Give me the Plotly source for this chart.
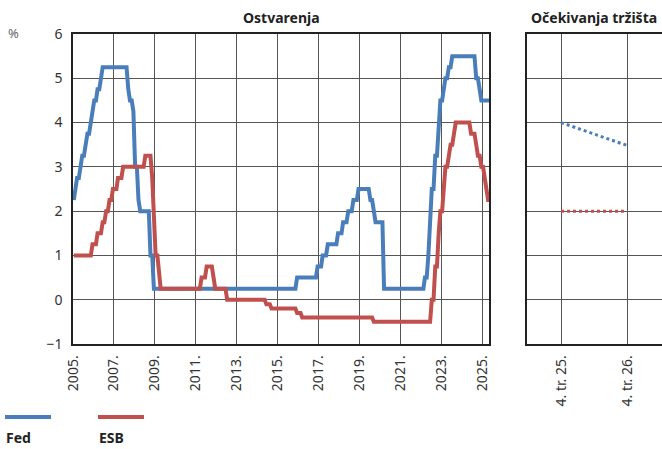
import pandas as pd
import plotly.graph_objects as go

# monthly values, Jan 2005 - May 2025 (end-of-month rate, plotted mid-month)
months = pd.date_range("2005-01-01", "2025-05-01", freq="MS") + pd.Timedelta(days=14)

fed = [
    2.25, 2.5, 2.75, 2.75, 3.0, 3.25, 3.25, 3.5, 3.75, 3.75, 4.0, 4.25,      # 2005
    4.5, 4.5, 4.75, 4.75, 5.0, 5.25, 5.25, 5.25, 5.25, 5.25, 5.25, 5.25,     # 2006
    5.25, 5.25, 5.25, 5.25, 5.25, 5.25, 5.25, 5.25, 4.75, 4.5, 4.5, 4.25,    # 2007
    3.0, 3.0, 2.25, 2.0, 2.0, 2.0, 2.0, 2.0, 2.0, 1.0, 1.0, 0.25,            # 2008
    0.25, 0.25, 0.25, 0.25, 0.25, 0.25, 0.25, 0.25, 0.25, 0.25, 0.25, 0.25,  # 2009
    0.25, 0.25, 0.25, 0.25, 0.25, 0.25, 0.25, 0.25, 0.25, 0.25, 0.25, 0.25,  # 2010
    0.25, 0.25, 0.25, 0.25, 0.25, 0.25, 0.25, 0.25, 0.25, 0.25, 0.25, 0.25,  # 2011
    0.25, 0.25, 0.25, 0.25, 0.25, 0.25, 0.25, 0.25, 0.25, 0.25, 0.25, 0.25,  # 2012
    0.25, 0.25, 0.25, 0.25, 0.25, 0.25, 0.25, 0.25, 0.25, 0.25, 0.25, 0.25,  # 2013
    0.25, 0.25, 0.25, 0.25, 0.25, 0.25, 0.25, 0.25, 0.25, 0.25, 0.25, 0.25,  # 2014
    0.25, 0.25, 0.25, 0.25, 0.25, 0.25, 0.25, 0.25, 0.25, 0.25, 0.25, 0.5,   # 2015
    0.5, 0.5, 0.5, 0.5, 0.5, 0.5, 0.5, 0.5, 0.5, 0.5, 0.5, 0.75,             # 2016
    0.75, 0.75, 1.0, 1.0, 1.0, 1.25, 1.25, 1.25, 1.25, 1.25, 1.25, 1.5,      # 2017
    1.5, 1.5, 1.75, 1.75, 1.75, 2.0, 2.0, 2.0, 2.25, 2.25, 2.25, 2.5,        # 2018
    2.5, 2.5, 2.5, 2.5, 2.5, 2.5, 2.25, 2.25, 2.0, 1.75, 1.75, 1.75,         # 2019
    1.75, 1.75, 0.25, 0.25, 0.25, 0.25, 0.25, 0.25, 0.25, 0.25, 0.25, 0.25,  # 2020
    0.25, 0.25, 0.25, 0.25, 0.25, 0.25, 0.25, 0.25, 0.25, 0.25, 0.25, 0.25,  # 2021
    0.25, 0.25, 0.5, 0.5, 1.0, 1.75, 2.5, 2.5, 3.25, 3.25, 4.0, 4.5,         # 2022
    4.5, 4.75, 5.0, 5.0, 5.25, 5.25, 5.5, 5.5, 5.5, 5.5, 5.5, 5.5,           # 2023
    5.5, 5.5, 5.5, 5.5, 5.5, 5.5, 5.5, 5.5, 5.0, 5.0, 4.75, 4.5,             # 2024
    4.5, 4.5, 4.5, 4.5, 4.5,                                                 # 2025
]

esb = [
    1.0, 1.0, 1.0, 1.0, 1.0, 1.0, 1.0, 1.0, 1.0, 1.0, 1.0, 1.25,             # 2005
    1.25, 1.25, 1.5, 1.5, 1.5, 1.75, 1.75, 2.0, 2.0, 2.25, 2.25, 2.5,        # 2006
    2.5, 2.5, 2.75, 2.75, 2.75, 3.0, 3.0, 3.0, 3.0, 3.0, 3.0, 3.0,           # 2007
    3.0, 3.0, 3.0, 3.0, 3.0, 3.0, 3.25, 3.25, 3.25, 3.25, 2.75, 2.0,         # 2008
    1.0, 1.0, 0.5, 0.25, 0.25, 0.25, 0.25, 0.25, 0.25, 0.25, 0.25, 0.25,     # 2009
    0.25, 0.25, 0.25, 0.25, 0.25, 0.25, 0.25, 0.25, 0.25, 0.25, 0.25, 0.25,  # 2010
    0.25, 0.25, 0.25, 0.5, 0.5, 0.5, 0.75, 0.75, 0.75, 0.75, 0.5, 0.25,      # 2011
    0.25, 0.25, 0.25, 0.25, 0.25, 0.25, 0.0, 0.0, 0.0, 0.0, 0.0, 0.0,        # 2012
    0.0, 0.0, 0.0, 0.0, 0.0, 0.0, 0.0, 0.0, 0.0, 0.0, 0.0, 0.0,              # 2013
    0.0, 0.0, 0.0, 0.0, 0.0, -0.1, -0.1, -0.1, -0.2, -0.2, -0.2, -0.2,       # 2014
    -0.2, -0.2, -0.2, -0.2, -0.2, -0.2, -0.2, -0.2, -0.2, -0.2, -0.2, -0.3,  # 2015
    -0.3, -0.3, -0.4, -0.4, -0.4, -0.4, -0.4, -0.4, -0.4, -0.4, -0.4, -0.4,  # 2016
    -0.4, -0.4, -0.4, -0.4, -0.4, -0.4, -0.4, -0.4, -0.4, -0.4, -0.4, -0.4,  # 2017
    -0.4, -0.4, -0.4, -0.4, -0.4, -0.4, -0.4, -0.4, -0.4, -0.4, -0.4, -0.4,  # 2018
    -0.4, -0.4, -0.4, -0.4, -0.4, -0.4, -0.4, -0.4, -0.5, -0.5, -0.5, -0.5,  # 2019
    -0.5, -0.5, -0.5, -0.5, -0.5, -0.5, -0.5, -0.5, -0.5, -0.5, -0.5, -0.5,  # 2020
    -0.5, -0.5, -0.5, -0.5, -0.5, -0.5, -0.5, -0.5, -0.5, -0.5, -0.5, -0.5,  # 2021
    -0.5, -0.5, -0.5, -0.5, -0.5, -0.5, 0.0, 0.0, 0.75, 0.75, 1.5, 2.0,      # 2022
    2.0, 2.5, 3.0, 3.0, 3.25, 3.5, 3.5, 3.75, 4.0, 4.0, 4.0, 4.0,            # 2023
    4.0, 4.0, 4.0, 4.0, 4.0, 3.75, 3.75, 3.75, 3.5, 3.25, 3.25, 3.0,         # 2024
    3.0, 2.75, 2.5, 2.25, 2.25,                                              # 2025
]

year_ticks = [str(y) for y in range(2005, 2026, 2)]
exp_labels = ["4. tr. 25.", "4. tr. 26."]
fed_exp = [4.0, 3.48]
esb_exp = [2.0, 2.0]

BLUE = "#4a7ebb"
RED = "#c0504d"
GRID = "#555555"
W, H = 662, 449

fig = go.Figure()
fig.add_trace(go.Scatter(x=months, y=fed, mode="lines", name="Fed",
                         line=dict(color=BLUE, width=4), xaxis="x", yaxis="y"))
fig.add_trace(go.Scatter(x=months, y=esb, mode="lines", name="ESB",
                         line=dict(color=RED, width=4), xaxis="x", yaxis="y"))
fig.add_trace(go.Scatter(x=[0, 1], y=fed_exp, mode="lines", name="Fed",
                         line=dict(color=BLUE, width=3, dash="dot"), xaxis="x2", yaxis="y2"))
fig.add_trace(go.Scatter(x=[0, 1], y=esb_exp, mode="lines", name="ESB",
                         line=dict(color=RED, width=3, dash="dot"), xaxis="x2", yaxis="y2"))

ydom = [1 - 344 / H, 1 - 34 / H]
axis_common = dict(showgrid=True, gridcolor=GRID, gridwidth=1, showline=True,
                   linecolor="#222222", linewidth=1.5, mirror=True, zeroline=False,
                   ticks="", automargin=False, tickfont=dict(size=14, color="#333333"))

fig.update_layout(
    template="none",
    width=W, height=H,
    margin=dict(l=0, r=0, t=0, b=0, autoexpand=False),
    paper_bgcolor="white", plot_bgcolor="white",
    showlegend=False,
    font=dict(family="Noto Sans", size=14, color="#333333"),
    xaxis=dict(domain=[73 / W, 489 / W], anchor="y", type="date",
               range=["2005-01-01", "2025-05-01"],
               tickvals=[y + "-01-01" for y in year_ticks],
               ticktext=[y + "." for y in year_ticks],
               tickangle=-90, ticklabelstandoff=4, **axis_common),
    yaxis=dict(domain=ydom, anchor="x", range=[-1, 6], dtick=1,
               ticklabelstandoff=6, **axis_common),
    xaxis2=dict(domain=[526.5 / W, 1.0], anchor="y2", range=[-0.52, 1.52],
                tickvals=[0, 1], ticktext=exp_labels,
                tickangle=-90, ticklabelstandoff=4, **axis_common),
    yaxis2=dict(domain=ydom, anchor="x2", range=[-1, 6], dtick=1,
                showticklabels=False, **axis_common),
)


def label(text, x, y, xanchor="center", size=14, color="#222222"):
    fig.add_annotation(text=text, xref="paper", yref="paper", x=x / W, y=1 - y / H,
                       xanchor=xanchor, yanchor="middle", showarrow=False,
                       font=dict(size=size, color=color))


# panel titles and unit
label("<b>Ostvarenja</b>", (73 + 489) / 2, 18)
label("<b>Očekivanja tržišta</b>", 594, 18)
label("%", 6, 33, xanchor="left", size=13, color="#666666")

# legend: line swatch with label below
for x0, color, name in [(5, BLUE, "Fed"), (98, RED, "ESB")]:
    fig.add_shape(type="line", xref="paper", yref="paper",
                  x0=x0 / W, x1=(x0 + 46) / W, y0=1 - 417 / H, y1=1 - 417 / H,
                  line=dict(color=color, width=4))
    label("<b>" + name + "</b>", x0 - 1, 437, xanchor="left")

# page body has a default 8px margin; drop it so the figure sits at the window corner
fig.write_html("out.html", config={"displayModeBar": False},
               post_script="document.body.style.margin='0';")
